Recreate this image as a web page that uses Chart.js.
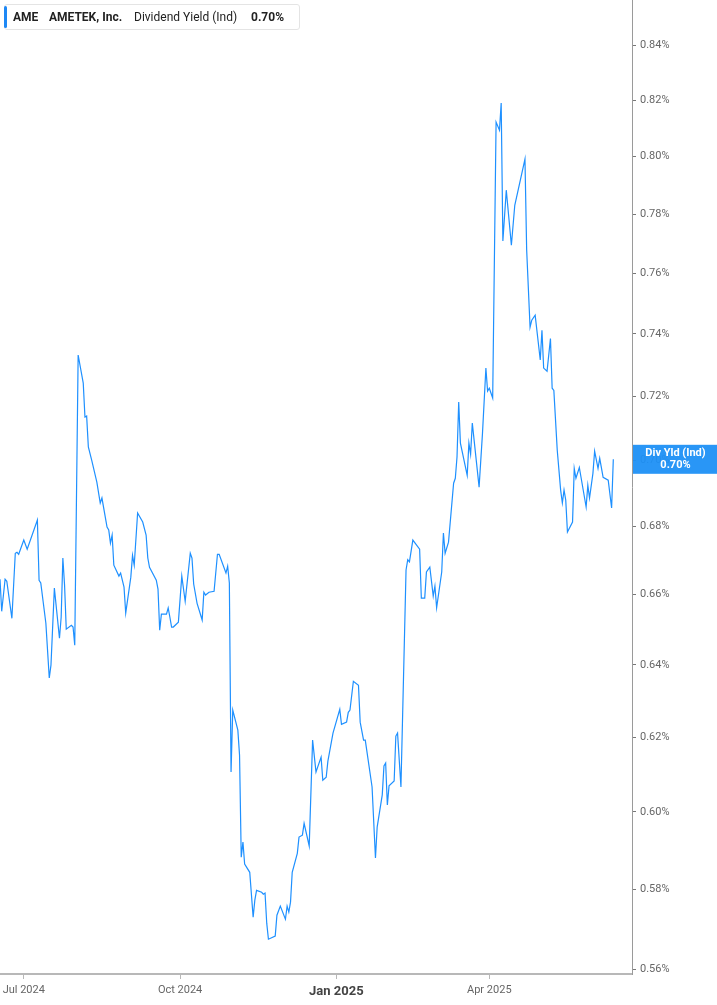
<!DOCTYPE html>
<html>
<head>
<meta charset="utf-8">
<script src="https://cdn.jsdelivr.net/npm/chart.js@4/dist/chart.umd.min.js"></script>
<style>
  body { margin: 0; background: #fff; font-family: Roboto, "Noto Sans", sans-serif; }
  #wrap { position: relative; width: 717px; height: 1005px; }
  .legend {
    position: absolute; left: 4px; top: 4px; width: 296px; height: 26px;
    box-sizing: border-box; background: #fff; border: 1px solid #e4e4e4; border-radius: 3px;
    font-size: 12px; color: #222; line-height: 24px; white-space: nowrap;
  }
  .legend .bar { position: absolute; left: -1px; top: 1px; width: 3px; height: 22px; background: #1e88f5; border-radius: 2px; }
  .legend span { position: absolute; top: 0; }
  .legend b { font-weight: 700; }
</style>
</head>
<body>
<div id="wrap">
  <canvas id="chart_yield"></canvas>
  <div class="legend">
    <div class="bar"></div>
    <span style="left:8px"><b>AME</b></span>
    <span style="left:44px"><b>AMETEK, Inc.</b></span>
    <span style="left:129px">Dividend Yield (Ind)</span>
    <span style="left:246px"><b id="lastVal">0.70%</b></span>
  </div>
</div>
<script>
// AME - dividend yield (indicated), %
const dates = [
  '2024-06-17','2024-06-18','2024-06-20','2024-06-21','2024-06-24','2024-06-26','2024-06-27','2024-06-28',
  '2024-07-01','2024-07-03','2024-07-09','2024-07-10','2024-07-11','2024-07-14','2024-07-16','2024-07-17',
  '2024-07-19','2024-07-22','2024-07-23','2024-07-24','2024-07-25','2024-07-26','2024-07-29','2024-07-30',
  '2024-07-31','2024-08-02','2024-08-05','2024-08-06','2024-08-07','2024-08-08','2024-08-10','2024-08-13',
  '2024-08-15','2024-08-16','2024-08-19','2024-08-20','2024-08-21','2024-08-22','2024-08-23','2024-08-26',
  '2024-08-27','2024-08-29','2024-08-30','2024-09-02','2024-09-03','2024-09-04','2024-09-06','2024-09-09',
  '2024-09-11','2024-09-12','2024-09-13','2024-09-17','2024-09-18','2024-09-19','2024-09-20','2024-09-23',
  '2024-09-24','2024-09-25','2024-09-26','2024-09-27','2024-09-30','2024-10-02','2024-10-04','2024-10-07',
  '2024-10-08','2024-10-09','2024-10-11','2024-10-14','2024-10-15','2024-10-16','2024-10-18','2024-10-21',
  '2024-10-23','2024-10-24','2024-10-28','2024-10-29','2024-10-30','2024-10-31','2024-11-01','2024-11-04',
  '2024-11-05','2024-11-06','2024-11-07','2024-11-08','2024-11-11','2024-11-13','2024-11-14','2024-11-15',
  '2024-11-18','2024-11-19','2024-11-20','2024-11-21','2024-11-22','2024-11-26','2024-11-27','2024-11-29',
  '2024-12-02','2024-12-03','2024-12-04','2024-12-05','2024-12-06','2024-12-09','2024-12-10','2024-12-12',
  '2024-12-13','2024-12-16','2024-12-18','2024-12-20','2024-12-23','2024-12-24','2024-12-26','2024-12-27',
  '2024-12-30','2025-01-03','2025-01-04','2025-01-07','2025-01-08','2025-01-09','2025-01-11','2025-01-14',
  '2025-01-15','2025-01-17','2025-01-18','2025-01-22','2025-01-24','2025-01-25','2025-01-28','2025-01-29',
  '2025-01-30','2025-01-31','2025-02-01','2025-02-04','2025-02-05','2025-02-06','2025-02-08','2025-02-11',
  '2025-02-12','2025-02-13','2025-02-15','2025-02-19','2025-02-20','2025-02-22','2025-02-23','2025-02-25',
  '2025-02-27','2025-02-28','2025-03-01','2025-03-04','2025-03-05','2025-03-06','2025-03-08','2025-03-11',
  '2025-03-12','2025-03-13','2025-03-14','2025-03-15','2025-03-19','2025-03-20','2025-03-21','2025-03-22',
  '2025-03-26','2025-03-28','2025-03-30','2025-03-31','2025-04-01','2025-04-03','2025-04-05','2025-04-07',
  '2025-04-08','2025-04-09','2025-04-11','2025-04-14','2025-04-16','2025-04-22','2025-04-23','2025-04-25',
  '2025-04-26','2025-04-28','2025-05-01','2025-05-02','2025-05-03','2025-05-05','2025-05-07','2025-05-08',
  '2025-05-09','2025-05-11','2025-05-13','2025-05-14','2025-05-15','2025-05-16','2025-05-17','2025-05-20',
  '2025-05-21','2025-05-22','2025-05-24','2025-05-28','2025-05-29','2025-05-30','2025-06-01','2025-06-02',
  '2025-06-04','2025-06-05','2025-06-07','2025-06-10','2025-06-12','2025-06-13'
];
const divYield = [
  0.6645,0.6552,0.6645,0.6639,0.6532,0.6721,0.6724,0.6718,
  0.6760,0.6733,0.6820,0.6642,0.6634,0.6518,0.6363,0.6399,
  0.6619,0.6475,0.6535,0.6707,0.6628,0.6501,0.6512,0.6507,
  0.6455,0.7332,0.7242,0.7135,0.7138,0.7042,0.7001,0.6934,
  0.6871,0.6886,0.6799,0.6790,0.6751,0.6775,0.6686,0.6654,
  0.6663,0.6622,0.6547,0.6651,0.6715,0.6686,0.6841,0.6814,
  0.6775,0.6707,0.6680,0.6642,0.6616,0.6498,0.6544,0.6544,
  0.6562,0.6535,0.6507,0.6507,0.6521,0.6654,0.6581,0.6721,
  0.6707,0.6631,0.6575,0.6527,0.6607,0.6599,0.6607,0.6610,
  0.6718,0.6718,0.6663,0.6683,0.6634,0.6106,0.6274,0.6219,
  0.6151,0.5882,0.5921,0.5864,0.5843,0.5729,0.5772,0.5797,
  0.5792,0.5787,0.5790,0.5714,0.5674,0.5682,0.5734,0.5757,
  0.5724,0.5757,0.5742,0.5767,0.5843,0.5892,0.5934,0.5939,
  0.5970,0.5911,0.6192,0.6106,0.6146,0.6084,0.6092,0.6135,
  0.6211,0.6276,0.6235,0.6241,0.6268,0.6274,0.6354,0.6343,
  0.6241,0.6192,0.6192,0.6066,0.5880,0.5960,0.6045,0.6122,
  0.6130,0.6018,0.6069,0.6082,0.6203,0.6211,0.6066,0.6672,
  0.6702,0.6696,0.6760,0.6733,0.6590,0.6590,0.6666,0.6680,
  0.6596,0.6625,0.6562,0.6666,0.6781,0.6721,0.6754,0.6931,
  0.6946,0.7011,0.7182,0.7054,0.6955,0.7054,0.7020,0.7116,
  0.6919,0.7085,0.7290,0.7217,0.7226,0.7195,0.8121,0.8092,
  0.8189,0.7708,0.7882,0.7694,0.7830,0.7990,0.7678,0.7422,
  0.7445,0.7461,0.7316,0.7412,0.7290,0.7280,0.7385,0.7226,
  0.7219,0.7032,0.6910,0.6871,0.6910,0.6880,0.6784,0.6814,
  0.6976,0.6946,0.6979,0.6859,0.6925,0.6886,0.6961,0.7029,
  0.6976,0.7007,0.6949,0.6940,0.6856,0.7004
];
const xTickDates = ['2024-07-01', '2024-10-01', '2025-01-01', '2025-04-01'];
const xTickLabels = ['Jul 2024', 'Oct 2024', 'Jan 2025', 'Apr 2025'];
const yTicks = [0.56, 0.58, 0.60, 0.62, 0.64, 0.66, 0.68, 0.70, 0.72, 0.74, 0.76, 0.78, 0.80, 0.82, 0.84];
const xEndDate = '2025-06-24';
const seriesName = 'Div Yld (Ind)';

const DAY = 86400000;
const origin = Date.parse('2024-07-01');
const toDay = s => (Date.parse(s) - origin) / DAY;

const points = dates.map((d, i) => ({ x: toDay(d), y: divYield[i] }));
const lastValue = divYield[divYield.length - 1];
document.getElementById('lastVal').textContent = lastValue.toFixed(2) + '%';

const FONT = 'Roboto, "Noto Sans", sans-serif';
const boldTick = toDay('2025-01-01');

// etiqueta azul com o último valor no eixo da direita
const lastLabel = {
  id: 'lastLabel',
  afterDraw(chart) {
    const { ctx, chartArea } = chart;
    const y = chart.scales.y.getPixelForValue(lastValue);
    ctx.save();
    ctx.fillStyle = 'rgba(30, 144, 245, 0.95)';
    ctx.fillRect(chartArea.right + 1, y - 14.5, chart.width - chartArea.right, 29);
    ctx.fillStyle = '#fff';
    ctx.font = 'bold 11px ' + FONT;
    ctx.textAlign = 'center';
    ctx.textBaseline = 'middle';
    const cx = chartArea.right + 1 + (chart.width - chartArea.right) / 2;
    ctx.fillText(seriesName, cx, y - 6);
    ctx.fillText(lastValue.toFixed(2) + '%', cx, y + 6);
    ctx.restore();
  }
};

new Chart(document.getElementById('chart_yield'), {
  type: 'line',
  data: {
    datasets: [{
      label: seriesName,
      data: points,
      borderColor: '#1e90ff',
      borderWidth: 1.2,
      pointRadius: 0,
      tension: 0,
      fill: false
    }]
  },
  options: {
    responsive: true,
    maintainAspectRatio: false,
    animation: false,
    layout: { padding: 0 },
    plugins: {
      legend: { display: false },
      tooltip: { enabled: false }
    },
    scales: {
      x: {
        type: 'linear',
        min: toDay(dates[0]),
        max: toDay(xEndDate),
        bounds: 'data',
        afterBuildTicks: s => { s.ticks = xTickDates.map(d => ({ value: toDay(d) })); },
        afterFit: s => { s.height = 31; s.paddingLeft = 0; s.paddingRight = 0; },
        border: { display: true, color: '#b8b8b8', width: 2 },
        grid: { display: true, drawOnChartArea: false, drawTicks: true, tickLength: 5, color: '#b8b8b8' },
        ticks: {
          autoSkip: false,
          maxRotation: 0,
          padding: 5,
          callback: (v, i) => xTickLabels[i],
          color: ctx => ctx.tick && ctx.tick.value === boldTick ? '#444' : '#666',
          font: ctx => ctx.tick && ctx.tick.value === boldTick
            ? { family: FONT, size: 13, weight: 'bold' }
            : { family: FONT, size: 11 }
        }
      },
      y: {
        type: 'logarithmic',
        position: 'right',
        min: 0.5588,
        max: 0.8568,
        afterBuildTicks: s => { s.ticks = yTicks.map(v => ({ value: v })); },
        afterFit: s => { s.width = 85; s.paddingTop = 0; s.paddingBottom = 0; },
        border: { display: true, color: '#9a9a9a', width: 1 },
        grid: { display: true, drawOnChartArea: false, drawTicks: true, tickLength: 4, color: '#777' },
        ticks: {
          padding: 4,
          color: '#666',
          font: { family: FONT, size: 11 },
          callback: v => v.toFixed(2) + '%'
        }
      }
    }
  },
  plugins: [lastLabel]
});
</script>
</body>
</html>
